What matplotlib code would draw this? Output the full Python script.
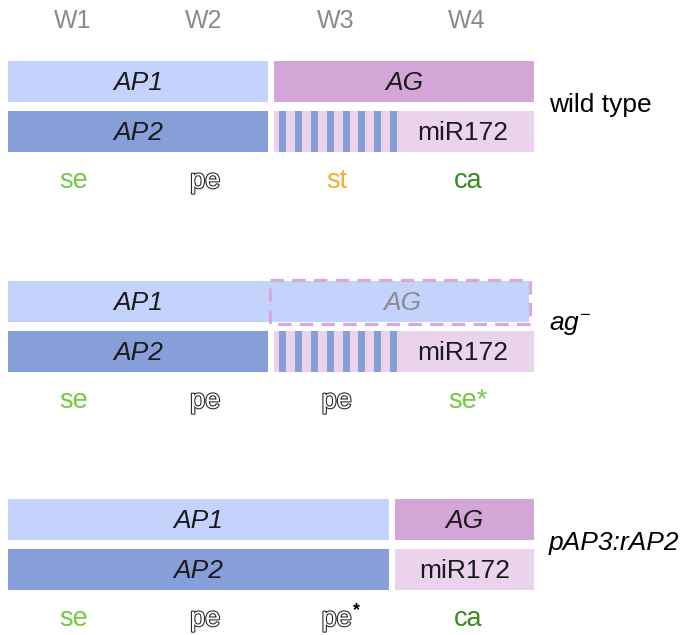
import matplotlib
matplotlib.use("Agg")
import matplotlib.pyplot as plt
import matplotlib.patheffects as pe
from matplotlib.patches import Rectangle
import numpy as np

plt.rcParams['font.family'] = ['Liberation Sans', 'DejaVu Sans']
plt.rcParams['mathtext.fontset'] = 'custom'
plt.rcParams['mathtext.it'] = 'Liberation Sans:italic'
plt.rcParams['mathtext.rm'] = 'Liberation Sans'

# ---- data ----
whorls = ['W1', 'W2', 'W3', 'W4']
genotypes = ['wild type', r'$ag^{\mathrm{-}}$', 'pAP3:rAP2']
genotype_italic = [False, False, True]
# boundary (in whorl units) between A-domain and C-domain for each genotype
ac_boundary = [2.0, 2.0, 2.92]
# AG present (True) or lost (False)
ag_present = [True, False, True]
# extent of AP2 stripes (mRNA cleaved by miR172) within C-domain, in whorl units
stripe_extent = [(2.0, 2.96), (2.0, 2.96), None]
organs = [['se', 'pe', 'st', 'ca'],
          ['se', 'pe', 'pe', 'se*'],
          ['se', 'pe', 'pe*', 'ca']]

# ---- styles ----
C_AP1 = '#c3d3fc'
C_AP2 = '#879fd9'
C_AG = '#d4a5d7'
C_MIR = '#ebd3ee'
C_DASH = '#d7a8db'
organ_color = {'se': '#76c843', 'st': '#f5b12e', 'ca': '#3a8a1c', 'pe': None}

W, H = 693, 635
fig = plt.figure(figsize=(W / 100, H / 100), dpi=100)
ax = fig.add_axes([0, 0, 1, 1])
pxw = 131.5  # px per whorl
x0 = 8
ax.set_xlim(-x0 / pxw, (W - x0) / pxw)
ax.set_ylim(H, 0)
ax.axis('off')

gap = 3 / pxw
row_tops = [61, 281, 499]
bar_h = 41
bar_step = 50
label_dy = 117
FS_BOX = 19

for k, wl in enumerate(whorls):
    ax.text(k + 0.49, 21, wl, ha='center', va='center', fontsize=18, color='#8a8a8a')

for r, top in enumerate(row_tops):
    b = ac_boundary[r]
    y1 = top
    y2 = top + bar_step
    if ag_present[r]:
        ax.add_patch(Rectangle((0, y1), b - gap, bar_h, color=C_AP1, lw=0))
        ax.text((b - gap) / 2, y1 + bar_h / 2 + 1, 'AP1', ha='center', va='center',
                fontsize=FS_BOX, style='italic', color='#1a1a1a')
        ax.add_patch(Rectangle((b + gap, y1), 4 - b - gap, bar_h, color=C_AG, lw=0))
        ax.text((b + gap + 4) / 2, y1 + bar_h / 2 + 1, 'AG', ha='center', va='center',
                fontsize=FS_BOX, style='italic', color='#1a1a1a')
    else:
        ax.add_patch(Rectangle((0, y1), 4 - 5 / pxw, bar_h, color=C_AP1, lw=0))
        ax.text((b - gap) / 2, y1 + bar_h / 2 + 1, 'AP1', ha='center', va='center',
                fontsize=FS_BOX, style='italic', color='#1a1a1a')
        ax.add_patch(Rectangle((b - 1.5 / pxw, y1 - 1.5), 4 - b - 2.5 / pxw, bar_h + 3,
                               fill=False, edgecolor=C_DASH, lw=2.3,
                               linestyle=(0, (4.2, 2.6))))
        ax.text((b + 4) / 2, y1 + bar_h / 2 + 1, 'AG', ha='center', va='center',
                fontsize=FS_BOX, style='italic', color='#8c8c8c')
    # AP2 / miR172
    ax.add_patch(Rectangle((0, y2), b - gap, bar_h, color=C_AP2, lw=0))
    ax.text((b - gap) / 2, y2 + bar_h / 2 + 1, 'AP2', ha='center', va='center',
            fontsize=FS_BOX, style='italic', color='#1a1a1a')
    ax.add_patch(Rectangle((b + gap, y2), 4 - b - gap, bar_h, color=C_MIR, lw=0))
    ax.text(3.46 if b < 2.5 else (b + gap + 4) / 2, y2 + bar_h / 2 + 1, 'miR172',
            ha='center', va='center', fontsize=FS_BOX, color='#1a1a1a')
    se = stripe_extent[r]
    if se is not None:
        period = (se[1] - se[0] - 7 / pxw - 8 / pxw) / 7
        starts = se[0] + 8 / pxw + period * np.arange(8)
        for s in starts:
            ax.add_patch(Rectangle((s, y2), 7 / pxw, bar_h, color=C_AP2, lw=0))
    # genotype label
    ax.text(4.114, y2 - 6, genotypes[r], ha='left', va='center', fontsize=19,
            style='italic' if genotype_italic[r] else 'normal', color='black')
    # organ labels
    for k, org in enumerate(organs[r]):
        base = org.rstrip('*')
        star = org.endswith('*')
        col = organ_color[base]
        xc = k + 0.5
        yc = top + label_dy + 3
        if col is None:
            t = ax.text(xc, yc, base, ha='center', va='center', fontsize=19.5,
                        color='white',
                        path_effects=[pe.withStroke(linewidth=1.5, foreground='#222222')])
            if star:
                ax.annotate('*', xy=(1, 1), xycoords=t, xytext=(0.5, 3),
                            textcoords='offset points', ha='left', va='top',
                            fontsize=13, fontweight='bold', color='black')
        else:
            ax.text(xc, yc, org, ha='center', va='center', fontsize=19.5, color=col)

fig.savefig('out.png', dpi=100)
